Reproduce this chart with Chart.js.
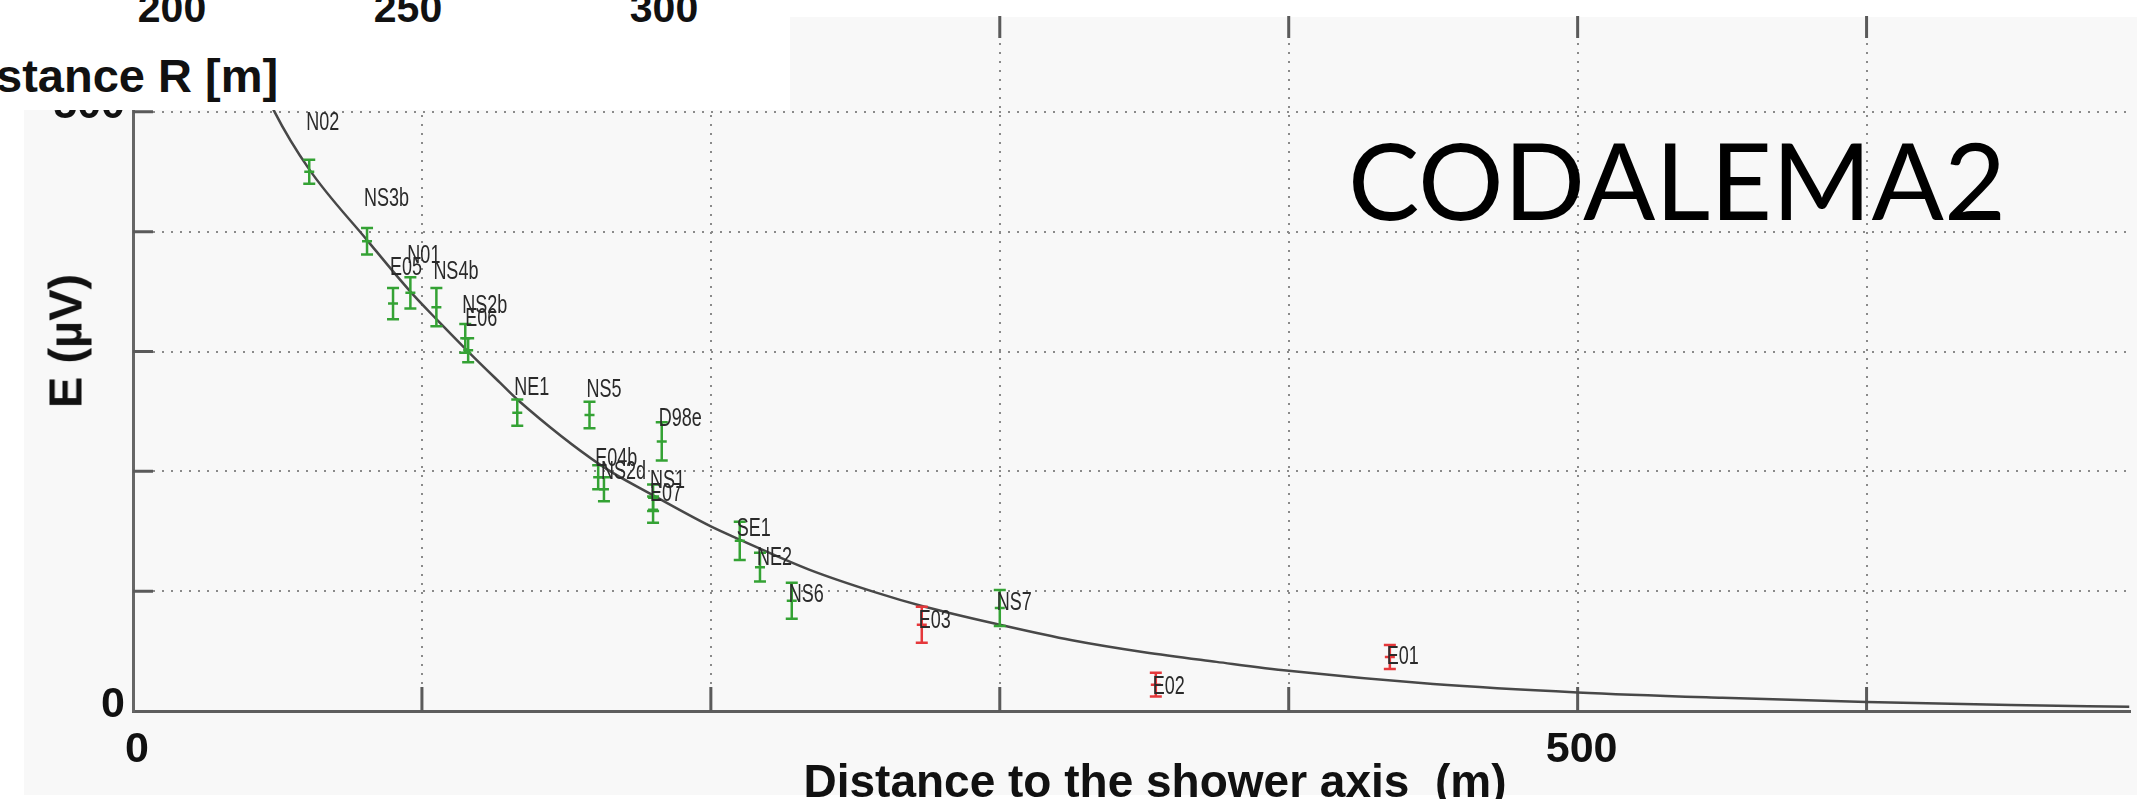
<!DOCTYPE html>
<html>
<head>
<meta charset="utf-8">
<title>CODALEMA2</title>
<script src="https://cdn.jsdelivr.net/npm/chart.js"></script>
<style>
  html, body { margin: 0; padding: 0; background: #fff; overflow: hidden; }
  body { width: 2137px; height: 799px; position: relative; font-family: 'Liberation Sans', Arial, sans-serif; }
  #panel { position: absolute; left: 24px; top: 17px; width: 2113px; height: 778px; background: #f8f8f8; }
  #wrap { position: absolute; left: 0; top: 0; width: 2137px; height: 799px; }
  #inset { position: absolute; left: 0; top: 0; width: 790px; height: 110px; background: #fff; overflow: hidden; }
  #inset span { position: absolute; font-weight: bold; color: #111; white-space: pre; }
  #inset .num { font-size: 41px; line-height: 41px; top: -12px; transform: translateX(-50%); }
  #inset .lbl { font-size: 47px; line-height: 47px; top: 52px; left: -4px; }
  .title { position: absolute; font-weight: bold; color: #111; white-space: pre; }
  #ytitle { left: 65px; top: 341px; font-size: 47px; line-height: 47px; transform: translate(-50%, -50%) rotate(-90deg); }
  #xtitle { left: 1155px; top: 758px; font-size: 46px; line-height: 46px; transform: translateX(-50%); }
  #tag { position: absolute; left: 1348px; top: 125px; font-family: Lato, 'Open Sans', sans-serif; font-size: 107px; line-height: 107px; color: #000; }
</style>
</head>
<body>
<div id="panel"></div>
<div id="wrap"><canvas id="lateralChart"></canvas></div>

<!-- morceau de l'autre figure, en haut a gauche -->
<div id="inset">
  <span class="num" style="left:172px">200</span>
  <span class="num" style="left:408px">250</span>
  <span class="num" style="left:664px">300</span>
  <span class="lbl">stance R [m]</span>
</div>

<div class="title" id="ytitle">E (µV)</div>
<div class="title" id="xtitle">Distance to the shower axis  (m)</div>
<div id="tag">CODALEMA2</div>

<script>
// Donnees
const stations  = ['N02', 'NS3b', 'E05', 'N01', 'NS4b', 'NS2b', 'E06', 'NE1', 'NS5', 'D98e', 'E04b',
                   'NS2d', 'NS1', 'E07', 'SE1', 'NE2', 'NS6', 'E03', 'NS7', 'E02', 'E01'];
const distances = [61, 81, 90, 96, 105, 115, 116, 133, 158, 183, 161, 163, 180, 180, 210, 217, 228, 273, 300, 354, 435];
const fields    = [450, 392, 340, 349, 337, 311, 301, 249, 247, 225, 195, 185, 178, 168, 142, 120, 92, 72, 86, 22, 45];
const errors    = [10, 11, 13, 13, 16, 12, 10, 11, 11, 16, 10, 10, 11, 11, 16, 12, 15, 15, 15, 10, 10];
const redStations = ['E03', 'E02', 'E01'];

// courbe d'ajustement
const curveR = [38, 49, 61, 81, 96, 105, 116, 127, 133, 162, 180, 200, 210, 234, 257, 274, 300, 325, 350, 375, 400, 450, 500, 550, 600, 650, 691];
const curveE = [560, 500, 452, 393, 350, 327, 300, 274, 260, 205, 180, 154, 143, 118, 99, 87, 72, 59, 49, 41, 33.5, 22.5, 15.5, 11, 7.5, 5, 3.6];

// graduations
const xTicks = [0, 100, 200, 300, 400, 500, 600];
const yTicks = [0, 100, 200, 300, 400, 500];
const xTickLabels = [0, 500];
const yTickLabels = [0, 500];

const GREEN = '#34a234';
const RED = '#e5383b';

function colourFor(name) {
    return redStations.includes(name) ? RED : GREEN;
}

// Barres d'erreur + noms des stations
const errorBarPlugin = {
    id: 'errorBars',
    afterDatasetsDraw(chart) {
        const { ctx, scales: { x, y } } = chart;
        ctx.save();
        ctx.lineWidth = 2.5;
        stations.forEach((name, i) => {
            const px = x.getPixelForValue(distances[i]);
            const top = y.getPixelForValue(fields[i] + errors[i]);
            const bot = y.getPixelForValue(fields[i] - errors[i]);
            ctx.strokeStyle = colourFor(name);
            ctx.beginPath();
            ctx.moveTo(px, top); ctx.lineTo(px, bot);
            ctx.moveTo(px - 6, top); ctx.lineTo(px + 6, top);
            ctx.moveTo(px - 6, bot); ctx.lineTo(px + 6, bot);
            ctx.stroke();
        });

        ctx.font = '25px "Liberation Sans", Arial, sans-serif';
        ctx.fillStyle = '#2a2a2a';
        ctx.textBaseline = 'middle';
        ctx.textAlign = 'left';
        stations.forEach((name, i) => {
            const px = x.getPixelForValue(distances[i]) - 3;
            const py = y.getPixelForValue(fields[i] * 1.1) + 5;
            ctx.save();
            ctx.translate(px, py);
            ctx.scale(0.72, 1);
            ctx.fillText(name, 0, 0);
            ctx.restore();
        });
        ctx.restore();
    }
};

// Graduations tournees vers l'interieur (bas, haut et gauche)
const innerTicksPlugin = {
    id: 'innerTicks',
    beforeDatasetsDraw(chart) {
        const { ctx, chartArea: area, scales: { x, y } } = chart;
        ctx.save();
        ctx.lineWidth = 3;
        ctx.strokeStyle = '#5a5a5a';
        ctx.beginPath();
        xTicks.forEach(v => {
            if (v === 0) return;
            const px = x.getPixelForValue(v);
            ctx.moveTo(px, area.bottom); ctx.lineTo(px, area.bottom - 24);
            ctx.moveTo(px, area.top); ctx.lineTo(px, area.top + 22);
        });
        yTicks.forEach(v => {
            if (v === 0) return;
            const py = y.getPixelForValue(v);
            ctx.moveTo(area.left, py); ctx.lineTo(area.left + 20, py);
        });
        ctx.stroke();
        ctx.restore();
    }
};

const tickFont = { family: 'Liberation Sans', size: 43, weight: 'bold' };

document.addEventListener('DOMContentLoaded', function() {
    const ctx = document.getElementById('lateralChart');
    new Chart(ctx.getContext('2d'), {
        type: 'scatter',
        data: {
            datasets: [{
                label: 'stations',
                data: distances.map((d, i) => ({ x: d, y: fields[i] })),
                pointStyle: 'line',
                pointRadius: 5,
                pointBorderWidth: 2.5,
                pointBorderColor: stations.map(colourFor),
                showLine: false
            }, {
                label: 'fit',
                data: curveR.map((r, i) => ({ x: r, y: curveE[i] })),
                showLine: true,
                borderColor: '#484848',
                borderWidth: 2.5,
                pointRadius: 0,
                cubicInterpolationMode: 'monotone'
            }]
        },
        options: {
            responsive: true,
            maintainAspectRatio: false,
            animation: false,
            layout: { padding: { top: 16, left: 0, right: -8, bottom: 0 } },
            plugins: { legend: { display: false }, tooltip: { enabled: false } },
            scales: {
                x: {
                    type: 'linear',
                    min: 0,
                    max: 691,
                    afterBuildTicks(s) { s.ticks = xTicks.map(v => ({ value: v })); },
                    afterFit(s) { s.height = 88; s.paddingLeft = 0; s.paddingRight = 0; },
                    ticks: {
                        autoSkip: false,
                        maxRotation: 0,
                        padding: 13,
                        labelOffset: 4,
                        color: '#111',
                        font: tickFont,
                        callback: v => xTickLabels.includes(Math.round(v)) ? String(Math.round(v)) : ''
                    },
                    grid: { color: '#8a8a8a', lineWidth: 2, drawTicks: false },
                    border: { color: '#5e5e5e', width: 3, dash: [2, 7] }
                },
                y: {
                    type: 'linear',
                    min: 0,
                    max: 580,
                    afterBuildTicks(s) { s.ticks = yTicks.map(v => ({ value: v })); },
                    afterFit(s) { s.width = 133; s.paddingTop = 0; s.paddingBottom = 0; },
                    ticks: {
                        autoSkip: false,
                        padding: 8,
                        labelOffset: -6,
                        color: '#111',
                        font: tickFont,
                        callback: v => yTickLabels.includes(Math.round(v)) ? String(Math.round(v)) : ''
                    },
                    grid: { color: '#8a8a8a', lineWidth: 2, drawTicks: false },
                    border: { color: '#666', width: 3, dash: [2, 7] }
                }
            }
        },
        plugins: [innerTicksPlugin, errorBarPlugin]
    });
});
</script>
</body>
</html>
